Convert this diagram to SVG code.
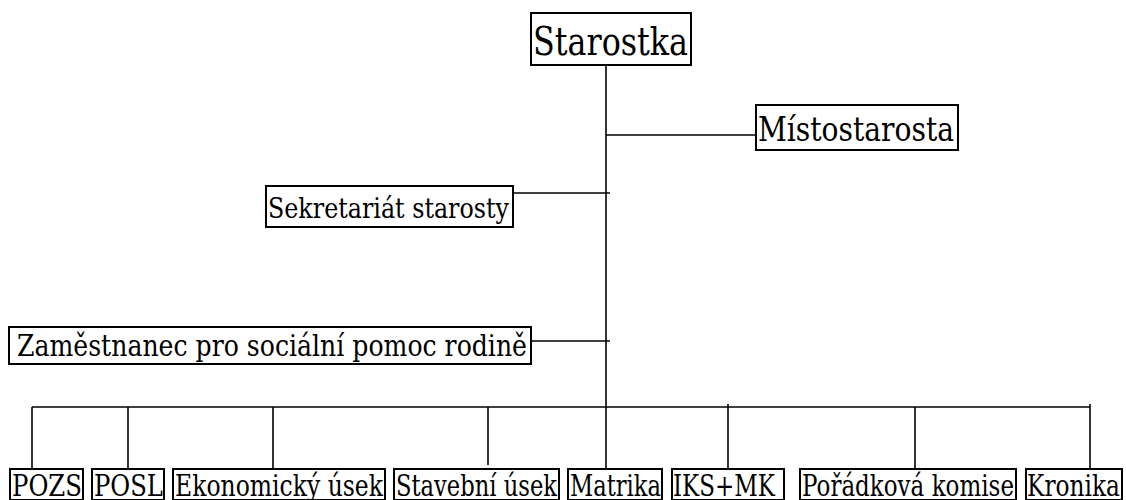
<svg xmlns="http://www.w3.org/2000/svg" width="1126" height="500" viewBox="0 0 1126 500">
<style>
.box{fill:#fff;stroke:#000;stroke-width:2}
.t{font-family:'DejaVu Serif','Liberation Serif',serif;fill:#000}
.ln{stroke:#000;stroke-width:1.6;fill:none}
</style>
<rect width="1126" height="500" fill="#fff"/>
<g id="connectors">
<line class="ln" x1="606" y1="63" x2="606" y2="469"/>
<line class="ln" x1="606" y1="135" x2="756" y2="135"/>
<line class="ln" x1="513" y1="193" x2="610" y2="193"/>
<line class="ln" x1="531" y1="341" x2="610" y2="341"/>
<line class="ln" x1="32" y1="407" x2="1090" y2="407"/>
<line class="ln" x1="32" y1="407" x2="32" y2="469"/>
<line class="ln" x1="128" y1="407" x2="128" y2="469"/>
<line class="ln" x1="273" y1="407" x2="273" y2="469"/>
<line class="ln" x1="488" y1="407" x2="488" y2="465"/>
<line class="ln" x1="728" y1="404" x2="728" y2="469"/>
<line class="ln" x1="915" y1="407" x2="915" y2="469"/>
<line class="ln" x1="1090" y1="404" x2="1090" y2="469"/>
</g>
<g id="starostka">
<rect class="box" x="531" y="13" width="160" height="52"/>
<text class="t" x="533" y="55" font-size="40" textLength="155" lengthAdjust="spacingAndGlyphs">Starostka</text>
</g>
<g id="mistostarosta">
<rect class="box" x="756" y="105" width="202" height="45"/>
<text class="t" x="758" y="141" font-size="34" textLength="196" lengthAdjust="spacingAndGlyphs">Místostarosta</text>
</g>
<g id="sekretariat">
<rect class="box" x="266" y="186" width="247" height="41"/>
<text class="t" x="268" y="218" font-size="28" textLength="241" lengthAdjust="spacingAndGlyphs">Sekretariát starosty</text>
</g>
<g id="zamestnanec">
<rect class="box" x="9" y="327" width="522" height="37"/>
<text class="t" x="17" y="356" font-size="29" textLength="510" lengthAdjust="spacingAndGlyphs">Zaměstnanec pro sociální pomoc rodině</text>
</g>
<g id="pozs">
<rect class="box" x="10" y="469" width="73" height="31"/>
<text class="t" x="12" y="496" font-size="29" textLength="70" lengthAdjust="spacingAndGlyphs">POZS</text>
</g>
<g id="posl">
<rect class="box" x="92" y="469" width="72" height="31"/>
<text class="t" x="94" y="496" font-size="29" textLength="69" lengthAdjust="spacingAndGlyphs">POSL</text>
</g>
<g id="ekonomicky">
<rect class="box" x="173" y="469" width="212" height="31"/>
<text class="t" x="175" y="496" font-size="29" textLength="208" lengthAdjust="spacingAndGlyphs">Ekonomický úsek</text>
</g>
<g id="stavebni">
<rect class="box" x="394" y="469" width="165" height="31"/>
<text class="t" x="396" y="496" font-size="29" textLength="161" lengthAdjust="spacingAndGlyphs">Stavební úsek</text>
</g>
<g id="matrika">
<rect class="box" x="568" y="469" width="94" height="31"/>
<text class="t" x="570" y="496" font-size="29" textLength="91" lengthAdjust="spacingAndGlyphs">Matrika</text>
</g>
<g id="iksmk">
<rect class="box" x="672" y="469" width="112" height="31"/>
<text class="t" x="673" y="496" font-size="29" textLength="102" lengthAdjust="spacingAndGlyphs">IKS+MK</text>
</g>
<g id="poradkova">
<rect class="box" x="800" y="469" width="216" height="31"/>
<text class="t" x="802" y="496" font-size="29" textLength="212" lengthAdjust="spacingAndGlyphs">Pořádková komise</text>
</g>
<g id="kronika">
<rect class="box" x="1026" y="469" width="96" height="31"/>
<text class="t" x="1027" y="496" font-size="29" textLength="93" lengthAdjust="spacingAndGlyphs">Kronika</text>
</g>
</svg>
